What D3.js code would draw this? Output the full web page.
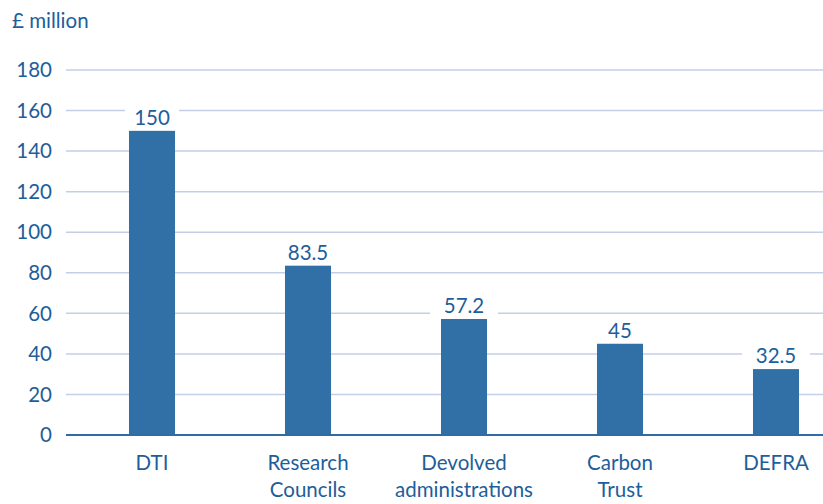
<!DOCTYPE html>
<html>
<head>
<meta charset="utf-8">
<script src="https://cdn.jsdelivr.net/npm/d3@7"></script>
<style>
  body { margin: 0; background: #fff; }
  text { font-family: "Lato", "Open Sans", sans-serif; fill: #1D5E9B; }
</style>
</head>
<body>
<script>
// Data
const categories = ["DTI", "Research Councils", "Devolved administrations", "Carbon Trust", "DEFRA"];
const categoryLines = [["DTI"], ["Research", "Councils"], ["Devolved", "administrations"], ["Carbon", "Trust"], ["DEFRA"]];
const values = [150, 83.5, 57.2, 45, 32.5];
const valueLabels = ["150", "83.5", "57.2", "45", "32.5"];
const yTicks = [0, 20, 40, 60, 80, 100, 120, 140, 160, 180];

const width = 823, height = 504;
const fontSize = "20.5px";

const svg = d3.select("body").append("svg")
    .attr("width", width)
    .attr("height", height);

const x = d3.scaleBand()
    .domain(categories)
    .range([74, 854])
    .paddingInner(0.705)
    .paddingOuter(0.3525);

const y = d3.scaleLinear()
    .domain([0, 180])
    .range([435, 70]);

// Gridlines
svg.append("g")
    .selectAll("line")
    .data(yTicks.filter(d => d > 0))
    .join("line")
    .attr("x1", 66)
    .attr("x2", width)
    .attr("y1", d => y(d))
    .attr("y2", d => y(d))
    .style("stroke", "#C3CFE7")
    .style("stroke-width", 1.5);

// Y tick labels
svg.append("g")
    .selectAll("text")
    .data(yTicks)
    .join("text")
    .attr("x", 52)
    .attr("y", d => y(d))
    .attr("dy", "0.35em")
    .attr("text-anchor", "end")
    .style("font-size", fontSize)
    .text(d => d);

// Units label
svg.append("text")
    .attr("x", 12)
    .attr("y", 28)
    .style("font-size", fontSize)
    .text("£ million");

// Bars
svg.append("g")
    .selectAll("rect")
    .data(values)
    .join("rect")
    .attr("x", (d, i) => x(categories[i]))
    .attr("y", d => y(d))
    .attr("width", x.bandwidth())
    .attr("height", d => y(0) - y(d))
    .style("fill", "#3070A7");

// Zero line
svg.append("line")
    .attr("x1", 66)
    .attr("x2", width)
    .attr("y1", y(0))
    .attr("y2", y(0))
    .style("stroke", "#2F6BA5")
    .style("stroke-width", 2);

// Value labels with white backing to mask gridlines
const vl = svg.append("g")
    .selectAll("g")
    .data(values)
    .join("g")
    .attr("transform", (d, i) => `translate(${x(categories[i]) + x.bandwidth() / 2},${y(d) - 6})`);

vl.append("rect")
    .attr("x", (d, i) => -valueLabels[i].length * 7 - 6)
    .attr("y", -19)
    .attr("width", (d, i) => valueLabels[i].length * 14 + 12)
    .attr("height", 21)
    .style("fill", "#fff");

vl.append("text")
    .attr("text-anchor", "middle")
    .style("font-size", fontSize)
    .text((d, i) => valueLabels[i]);

// Category labels
const cl = svg.append("g")
    .selectAll("text")
    .data(categories)
    .join("text")
    .attr("x", d => x(d) + x.bandwidth() / 2)
    .attr("y", 470)
    .attr("text-anchor", "middle")
    .style("font-size", fontSize);

cl.selectAll("tspan")
    .data((d, i) => categoryLines[i])
    .join("tspan")
    .attr("x", function () { return d3.select(this.parentNode).attr("x"); })
    .attr("dy", (d, j) => j === 0 ? 0 : 27)
    .text(d => d);
</script>
</body>
</html>
